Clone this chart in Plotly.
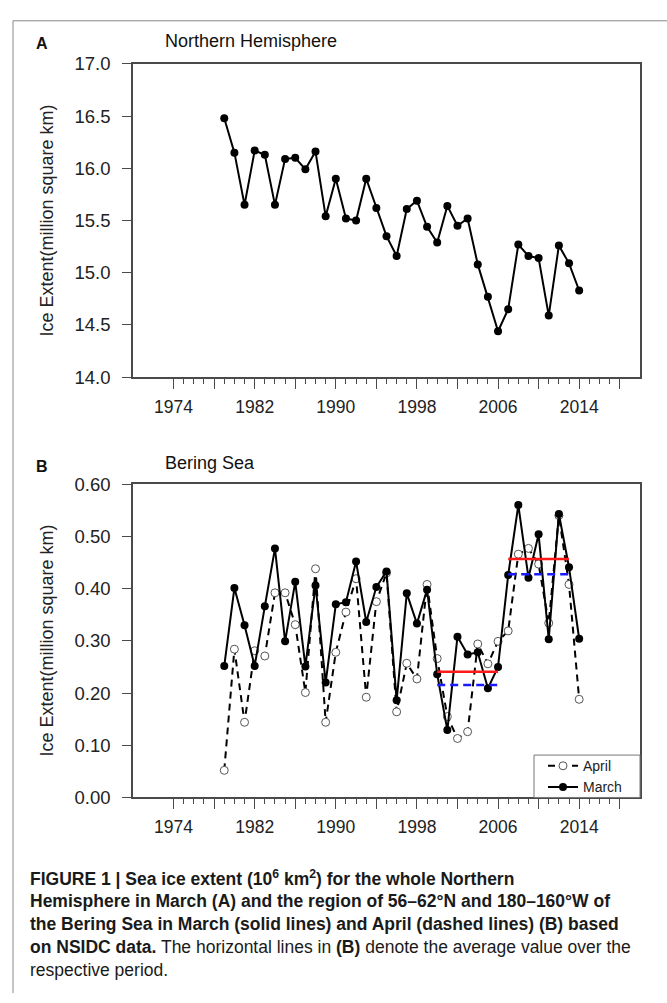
import plotly.graph_objects as go

# Years of record
years = list(range(1979, 2015))

# March sea ice extent, whole Northern Hemisphere (million km^2)
nh_march = [16.48, 16.15, 15.65, 16.17, 16.13, 15.65, 16.09, 16.10, 15.99, 16.16,
            15.54, 15.90, 15.52, 15.50, 15.90, 15.62, 15.35, 15.16, 15.61, 15.69,
            15.44, 15.29, 15.64, 15.45, 15.52, 15.08, 14.77, 14.44, 14.65, 15.27,
            15.16, 15.14, 14.59, 15.26, 15.09, 14.83]

# Bering Sea (56-62N, 180-160W) extent, March and April (million km^2)
bering_march = [0.252, 0.401, 0.330, 0.252, 0.366, 0.477, 0.299, 0.413, 0.251, 0.406,
                0.220, 0.370, 0.374, 0.452, 0.336, 0.403, 0.433, 0.186, 0.391, 0.333,
                0.398, 0.236, 0.129, 0.308, 0.274, 0.278, 0.209, 0.250, 0.426, 0.560,
                0.421, 0.504, 0.303, 0.543, 0.441, 0.304]
bering_april = [0.052, 0.284, 0.144, 0.281, 0.271, 0.392, 0.392, 0.331, 0.201, 0.438,
                0.144, 0.278, 0.355, 0.419, 0.192, 0.375, 0.430, 0.164, 0.257, 0.227,
                0.408, 0.266, 0.155, 0.113, 0.126, 0.294, 0.256, 0.299, 0.319, 0.466,
                0.477, 0.447, 0.334, 0.540, 0.408, 0.188]

# Periods over which averages are drawn
periods = [(2000, 2006), (2007, 2013)]

# Axis ticks
major_years = list(range(1974, 2019, 4))
label_years = [1974, 1982, 1990, 1998, 2006, 2014]
minor_years = [y for y in range(1974, 2019) if y not in major_years]
nh_ticks = [14.0, 14.5, 15.0, 15.5, 16.0, 16.5, 17.0]
bs_ticks = [0.0, 0.1, 0.2, 0.3, 0.4, 0.5, 0.6]

W, H = 667, 1003
FONT = "Liberation Sans, Arial, sans-serif"
AXC = "#4a4a4a"


def px(x):
    return x / W


def py(y):
    return 1 - y / H


def period_mean(vals, start, end):
    sel = [v for yr, v in zip(years, vals) if start <= yr <= end]
    return sum(sel) / len(sel)


fig = go.Figure()

# Panel A
fig.add_trace(go.Scatter(
    x=years, y=nh_march, mode="lines+markers", xaxis="x", yaxis="y",
    line=dict(color="black", width=2), marker=dict(color="black", size=8),
    showlegend=False, hoverinfo="skip"))

# Panel B
fig.add_trace(go.Scatter(
    x=years, y=bering_april, mode="lines+markers", xaxis="x2", yaxis="y2",
    name="April",
    line=dict(color="black", width=2, dash="7px,5px"),
    marker=dict(symbol="circle", color="white", size=8,
                line=dict(color="#555555", width=1))))
fig.add_trace(go.Scatter(
    x=years, y=bering_march, mode="lines+markers", xaxis="x2", yaxis="y2",
    name="March",
    line=dict(color="black", width=2), marker=dict(color="black", size=8)))

for start, end in periods:
    m_mean = period_mean(bering_march, start, end)
    a_mean = period_mean(bering_april, start, end)
    fig.add_trace(go.Scatter(
        x=[start, end], y=[a_mean, a_mean], mode="lines", xaxis="x2", yaxis="y2",
        line=dict(color="#1a1aff", width=2.5, dash="8px,5px"),
        showlegend=False, hoverinfo="skip"))
    fig.add_trace(go.Scatter(
        x=[start, end], y=[m_mean, m_mean], mode="lines", xaxis="x2", yaxis="y2",
        line=dict(color="#ff1a1a", width=2.5),
        showlegend=False, hoverinfo="skip"))

xaxis_common = dict(
    range=[1970, 2020], tickmode="array", tickvals=major_years,
    ticktext=[str(y) if y in label_years else "" for y in major_years],
    ticks="outside", ticklen=10, tickwidth=1.3, tickcolor=AXC,
    minor=dict(tickmode="array", tickvals=minor_years, ticks="outside",
               ticklen=5, tickwidth=1.3, tickcolor=AXC),
    showline=True, linecolor=AXC, linewidth=1.5, mirror=True,
    showgrid=False, zeroline=False, ticklabelstandoff=3,
    tickfont=dict(family=FONT, size=17.5, color="#222222"))

yaxis_common = dict(
    ticks="outside", ticklen=9, tickwidth=1.3, tickcolor=AXC,
    showline=True, linecolor=AXC, linewidth=1.5, mirror=True,
    showgrid=False, zeroline=False, ticklabelstandoff=8,
    tickfont=dict(family=FONT, size=18.5, color="#222222"))

xdom = [px(133), px(640)]
fig.update_layout(
    width=W, height=H, margin=dict(l=0, r=0, t=0, b=0),
    paper_bgcolor="white", plot_bgcolor="white",
    font=dict(family=FONT, color="#222222"),
    xaxis=dict(domain=xdom, anchor="y", **xaxis_common),
    yaxis=dict(domain=[py(374), py(54)], anchor="x", range=[14.0, 17.0],
               tickmode="array", tickvals=nh_ticks,
               ticktext=[f"{v:.1f}" for v in nh_ticks], **yaxis_common),
    xaxis2=dict(domain=xdom, anchor="y2", **xaxis_common),
    yaxis2=dict(domain=[py(803.3), py(483.3)], anchor="x2", range=[0.0, 0.6],
                tickmode="array", tickvals=bs_ticks,
                ticktext=[f"{v:.2f}" for v in bs_ticks], **yaxis_common),
    legend=dict(x=px(543), y=py(755), xanchor="left", yanchor="top",
                bgcolor="rgba(0,0,0,0)", borderwidth=0,
                font=dict(family=FONT, size=14, color="#222222"),
                tracegroupgap=0, itemwidth=30),
    showlegend=True,
)

annotations = [
    dict(x=px(34), y=py(33), text="<b>A</b>", font=dict(size=16, color="#111")),
    dict(x=px(34), y=py(465), text="<b>B</b>", font=dict(size=16, color="#111")),
    dict(x=px(163), y=py(31), text="Northern Hemisphere", font=dict(size=18, color="#111")),
    dict(x=px(163), y=py(462), text="Bering Sea", font=dict(size=18, color="#111")),
]
for a in annotations:
    a.update(xref="paper", yref="paper", xanchor="left", yanchor="middle",
             showarrow=False)

for yc in (214, 643):
    annotations.append(dict(
        x=px(47), y=py(yc), xref="paper", yref="paper", showarrow=False,
        text="Ice Extent(million square km)", textangle=-90,
        xanchor="center", yanchor="middle", font=dict(size=18, color="#222")))

caption_lines = [
    "<b>FIGURE 1 | Sea ice extent (10<sup>6</sup> km<sup>2</sup>) for the whole Northern</b>",
    "<b>Hemisphere in March (A) and the region of 56–62°N and 180–160°W of</b>",
    "<b>the Bering Sea in March (solid lines) and April (dashed lines) (B) based</b>",
    "<b>on NSIDC data.</b> The horizontal lines in <b>(B)</b> denote the average value over the",
    "respective period.",
]
for i, line in enumerate(caption_lines):
    annotations.append(dict(
        x=px(28), y=py(886 + i * 23.3), xref="paper", yref="paper",
        showarrow=False, text=line, xanchor="left", yanchor="middle",
        font=dict(size=17.5, color="#1a1a1a")))

fig.update_layout(annotations=annotations)

fig.update_layout(shapes=[
    # page frame lines (top and left)
    dict(type="line", xref="paper", yref="paper", x0=px(13), x1=1,
         y0=py(10), y1=py(10), line=dict(color="#888888", width=1)),
    dict(type="line", xref="paper", yref="paper", x0=px(13), x1=px(13),
         y0=py(10), y1=0, line=dict(color="#888888", width=1)),
    # legend box in the lower-right corner of panel B
    dict(type="rect", xref="paper", yref="paper", x0=px(534), x1=px(640),
         y0=py(803.3), y1=py(760), fillcolor="white",
         line=dict(color="#777777", width=1), layer="above"),
])

fig.write_html("out.html")
